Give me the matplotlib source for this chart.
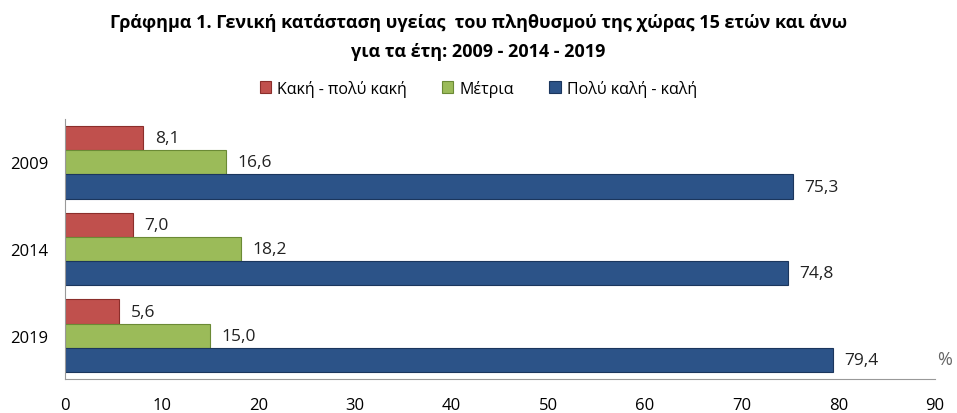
import numpy as np
import matplotlib.pyplot as plt

plt.rcParams['font.family'] = ['Open Sans', 'DejaVu Sans']

# data
years = ['2009', '2014', '2019']
series_names = ['Κακή - πολύ κακή', 'Μέτρια', 'Πολύ καλή - καλή']
bad = [8.1, 7.0, 5.6]
medium = [16.6, 18.2, 15.0]
good = [75.3, 74.8, 79.4]
xticks = [0, 10, 20, 30, 40, 50, 60, 70, 80, 90]

colors = ['#C0504D', '#9BBB59', '#2C5388']
edges = ['#8B2E2B', '#6B8A35', '#1B365D']

fig = plt.figure(figsize=(9.57, 4.14), dpi=100)
ax = fig.add_axes([0.068, 0.082, 0.909, 0.628])

y = np.arange(len(years))
h = 0.279
offsets = [-h, 0, h]
for vals, off, col, ec, name in zip([bad, medium, good], offsets, colors, edges, series_names):
    bars = ax.barh(y + off, vals, height=h, color=col, edgecolor=ec, linewidth=0.8, label=name)
    for b, v in zip(bars, vals):
        ax.text(v + 1.2, b.get_y() + b.get_height() / 2, f"{v:.1f}".replace('.', ','),
                va='center', ha='left', fontsize=12.5, color='#222222')

ax.set_ylim(2.5, -0.5)
ax.set_xlim(0, 90)
ax.set_yticks(y)
ax.set_yticklabels(years, fontsize=12)
ax.set_xticks(xticks)
ax.set_xticklabels([str(t) for t in xticks], fontsize=12)
ax.tick_params(axis='y', length=0, pad=12)
ax.tick_params(axis='x', length=0, pad=13)
for s in ['top', 'right']:
    ax.spines[s].set_visible(False)
ax.spines['left'].set_color('#999999')
ax.spines['bottom'].set_color('#999999')

fig.text(0.995, 0.13, '%', fontsize=13, color='#666666', ha='right', va='center')

fig.text(0.5, 0.945, 'Γράφημα 1. Γενική κατάσταση υγείας  του πληθυσμού της χώρας 15 ετών και άνω',
         ha='center', va='center', fontsize=13, fontweight='bold')
fig.text(0.5, 0.875, 'για τα έτη: 2009 - 2014 - 2019',
         ha='center', va='center', fontsize=13, fontweight='bold')

fig.legend(loc='center', bbox_to_anchor=(0.5, 0.785), ncol=3, frameon=False, fontsize=11.5,
           handlelength=0.7, handleheight=0.7, handletextpad=0.4, columnspacing=2.2)

fig.savefig('out.png', dpi=100)
